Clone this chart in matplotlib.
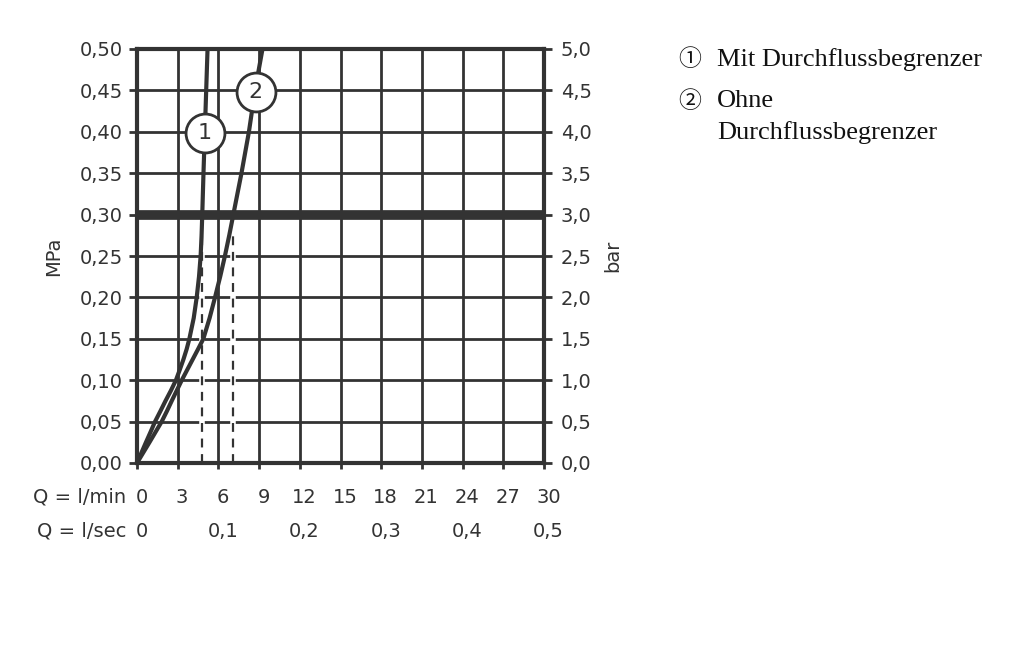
import matplotlib
matplotlib.use("Agg")
import matplotlib.pyplot as plt

# Data (flow l/min, pressure MPa)
c1_q = [0, 0.33, 0.66, 1.0, 1.33, 1.72, 2.1, 2.5, 2.87, 3.15, 3.42, 3.66, 3.86, 4.18, 4.40, 4.57, 4.69, 4.76, 4.81, 4.9, 5.0, 5.1, 5.2]
c1_p = [0, 0.0125, 0.025, 0.0375, 0.05, 0.0625, 0.075, 0.0875, 0.10, 0.1125, 0.125, 0.1375, 0.15, 0.175, 0.20, 0.225, 0.25, 0.275, 0.30, 0.35, 0.40, 0.45, 0.50]
c2_q = [0, 0.46, 0.92, 1.37, 1.82, 2.2, 2.56, 2.93, 3.3, 3.7, 4.1, 4.5, 4.89, 5.35, 5.75, 6.13, 6.48, 6.8, 7.10, 7.7, 8.25, 8.7, 9.25]
c2_p = [0, 0.0125, 0.025, 0.0375, 0.05, 0.0625, 0.075, 0.0875, 0.10, 0.1125, 0.125, 0.1375, 0.15, 0.175, 0.20, 0.225, 0.25, 0.275, 0.30, 0.35, 0.40, 0.45, 0.50]
dash_q = [4.81, 7.05]
dash_top = 0.28
limit_p = 0.30
labels_pos = [(5.0, 0.398, "1"), (8.75, 0.448, "2")]

xticks_min = [0, 3, 6, 9, 12, 15, 18, 21, 24, 27, 30]
sec_pos = [0, 6, 12, 18, 24, 30]
sec_labels = ["0", "0,1", "0,2", "0,3", "0,4", "0,5"]
yticks = [0, 0.05, 0.10, 0.15, 0.20, 0.25, 0.30, 0.35, 0.40, 0.45, 0.50]
ylabels_mpa = ["0,00", "0,05", "0,10", "0,15", "0,20", "0,25", "0,30", "0,35", "0,40", "0,45", "0,50"]
ylabels_bar = ["0,0", "0,5", "1,0", "1,5", "2,0", "2,5", "3,0", "3,5", "4,0", "4,5", "5,0"]
legend_items = ["Mit Durchflussbegrenzer", "Ohne\nDurchflussbegrenzer"]

C = "#333333"
FONT = "DejaVu Sans"
FS = 14

fig = plt.figure(figsize=(10.24, 6.53), dpi=100)
ax = fig.add_axes([137/1024, 1-463/653, 407/1024, 414/653])
ax.set_xlim(0, 30)
ax.set_ylim(0, 0.5)

# grid
for x in xticks_min[1:-1]:
    ax.axvline(x, color=C, lw=2, zorder=1)
for y in yticks[1:-1]:
    ax.axhline(y, color=C, lw=2, zorder=1)
ax.axhline(limit_p, color=C, lw=7, zorder=2)

for q in dash_q:
    ax.plot([q, q], [0, dash_top], color="white", lw=4, zorder=2.5)
    ax.plot([q, q], [0, dash_top], color=C, lw=1.6, ls=(0, (4, 3)), zorder=3)

ax.plot(c1_q, c1_p, color=C, lw=3, zorder=4, solid_capstyle="butt", solid_joinstyle="round")
ax.plot(c2_q, c2_p, color=C, lw=3, zorder=4, solid_capstyle="butt", solid_joinstyle="round")

for x, y, t in labels_pos:
    ax.plot([x], [y], marker="o", ms=28, mfc="white", mec=C, mew=2, zorder=6)
    ax.text(x, y, t, ha="center", va="center", fontsize=16, color=C, family=FONT, zorder=7)

for s in ax.spines.values():
    s.set_color(C)
    s.set_linewidth(3)

ax.set_xticks(xticks_min)
ax.set_xticklabels([])
ax.set_yticks(yticks)
ax.set_yticklabels(ylabels_mpa, fontsize=FS, color=C, family=FONT)
ax.tick_params(axis="both", direction="out", length=6, width=2, color=C, pad=4)
ax.tick_params(axis="x", length=4)

ax2 = ax.twinx()
ax2.set_ylim(0, 0.5)
ax2.set_yticks(yticks)
ax2.set_yticklabels(ylabels_bar, fontsize=FS, color=C, family=FONT)
ax2.tick_params(axis="y", direction="out", length=6, width=2, color=C, pad=6)
for s in ax2.spines.values():
    s.set_visible(False)

ax.set_ylabel("MPa", fontsize=FS, color=C, family=FONT, labelpad=12)
ax2.set_ylabel("bar", fontsize=FS, color=C, family=FONT, labelpad=8, rotation=90)

trans = ax.get_xaxis_transform()
for x in xticks_min:
    ax.text(x + 0.33, -0.083, str(x), transform=trans, ha="center", va="center",
            fontsize=FS, color=C, family=FONT)
for x, t in zip(sec_pos, sec_labels):
    ax.text(x + 0.33, -0.165, t, transform=trans, ha="center", va="center",
            fontsize=FS, color=C, family=FONT)
ax.text(-0.8, -0.083, "Q = l/min", transform=trans, ha="right", va="center",
        fontsize=FS, color=C, family=FONT)
ax.text(-0.8, -0.165, "Q = l/sec", transform=trans, ha="right", va="center",
        fontsize=FS, color=C, family=FONT)

# legend
fam = ["Liberation Serif", "DejaVu Sans"]
TC = "#111111"
cfam = ["Noto Sans CJK JP", "DejaVu Sans"]
fig.text(690/1024, 1-60/653, "\u2460", fontsize=16.5, family=cfam, va="center", ha="center", color=TC)
fig.text(717/1024, 1-60/653, legend_items[0], fontsize=19, family=fam, va="center", ha="left", color=TC)
fig.text(690/1024, 1-101/653, "\u2461", fontsize=16.5, family=cfam, va="center", ha="center", color=TC)
fig.text(717/1024, 1-101/653, legend_items[1].split("\n")[0], fontsize=19, family=fam, va="center", ha="left", color=TC)
fig.text(717/1024, 1-133/653, legend_items[1].split("\n")[1], fontsize=19, family=fam, va="center", ha="left", color=TC)

fig.savefig("out.png", dpi=100)
